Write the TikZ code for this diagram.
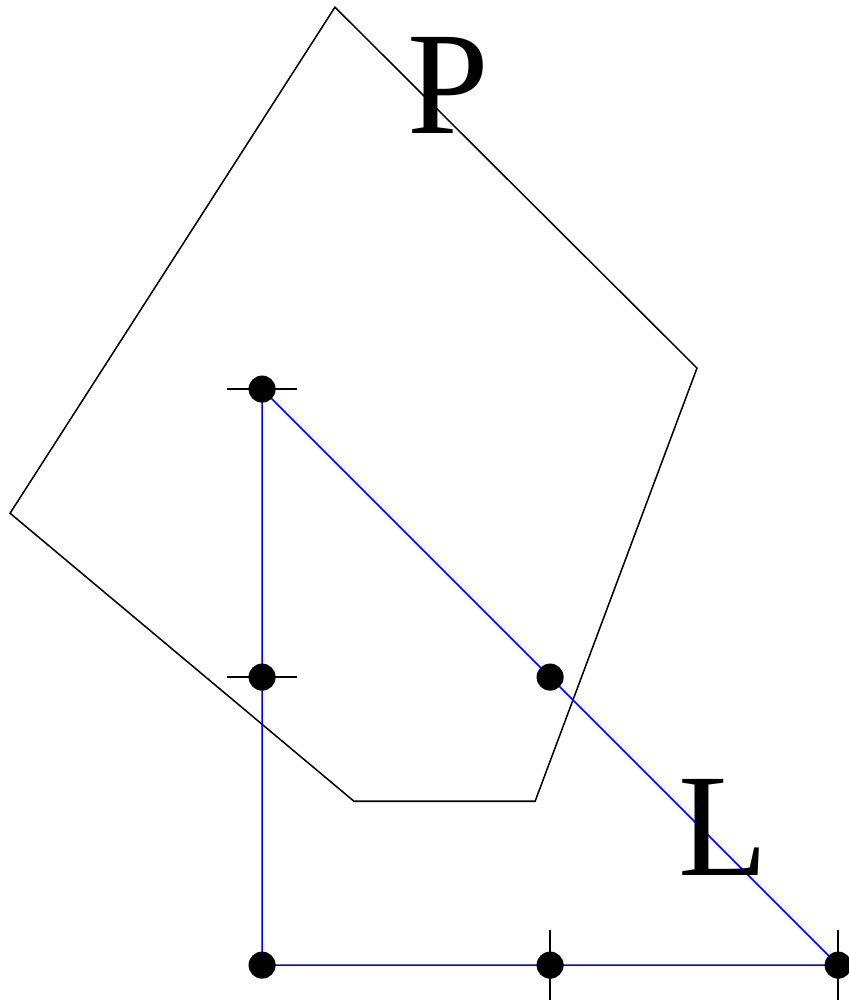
\documentclass[tikz,border=0pt]{standalone}
\usepackage{fontspec}
\setmainfont{Liberation Serif}
\tikzset{
  dot/.style={fill=black},
  tick/.style={line width=0.6pt},
  side/.style={blue, line width=0.6pt},
  big/.style={font=\fontsize{58}{60}\selectfont, inner sep=0pt}
}
\begin{document}
\begin{tikzpicture}[scale=4]
\useasboundingbox (-0.910,-0.128) rectangle (2.035,3.351);
\coordinate (p1) at (0.253,3.326);
\coordinate (p2) at (1.510,2.073);
\coordinate (p3) at (0.948,0.569);
\coordinate (p4) at (0.319,0.569);
\coordinate (p5) at (-0.875,1.569);
\draw[line width=0.6pt] (p1) -- (p2) -- (p3) -- (p4) -- (p5) -- cycle;
\node[big] (P) at (0.648,3.056) {P};
\coordinate (A) at (0,2);
\coordinate (B) at (0,0);
\coordinate (C) at (2,0);
\coordinate (AB) at (0,1);
\coordinate (AC) at (1,1);
\coordinate (BC) at (1,0);
\draw[side] (A) -- (B) -- (C) -- cycle;
\node[big] (L) at (1.602,0.479) {L};
\foreach \q in {A,AB}
  \draw[tick] (\q) ++(-0.122,0) -- ++(0.244,0);
\foreach \q in {BC,C}
  \draw[tick] (\q) ++(0,-0.122) -- ++(0,0.244);
\foreach \q in {A,AB,AC,B,BC,C}
  \fill[dot] (\q) circle (0.047);
\end{tikzpicture}
\end{document}
